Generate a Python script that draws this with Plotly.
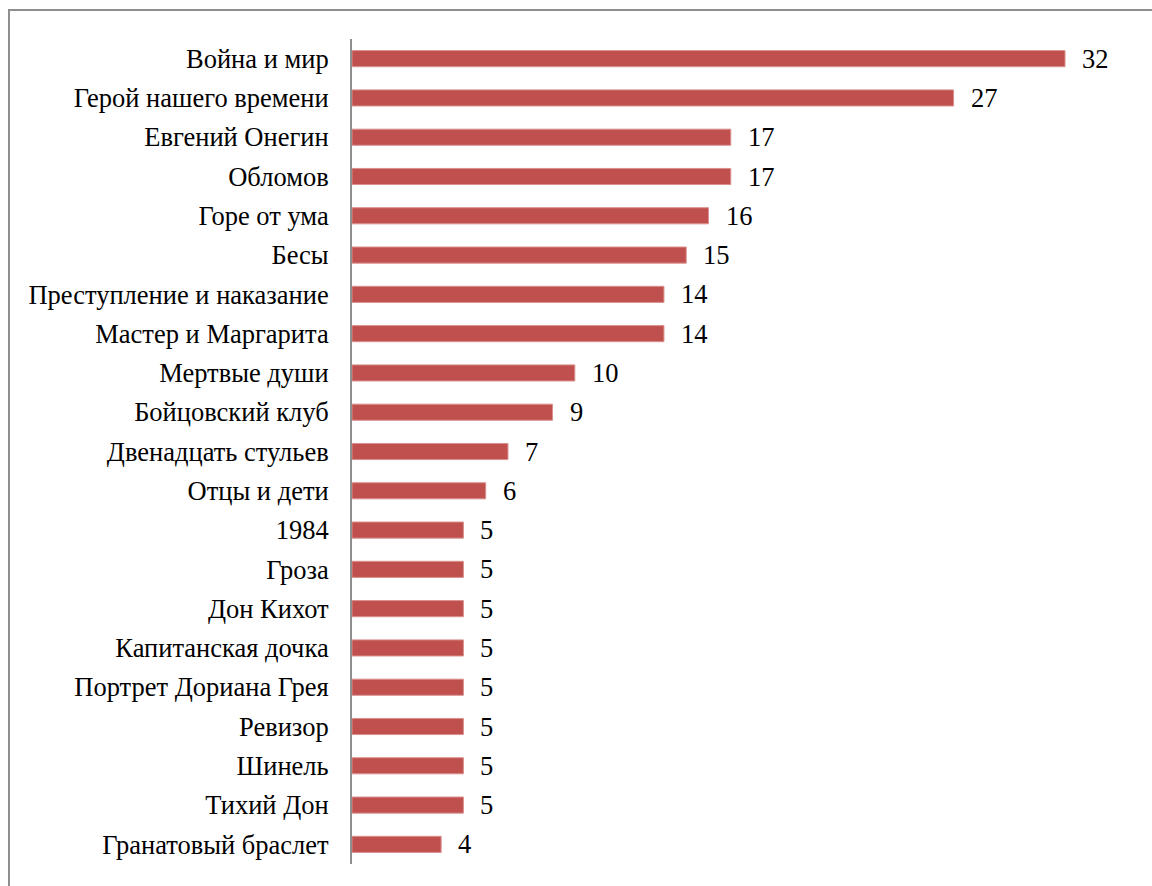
import plotly.graph_objects as go

# Books and the number of mentions for each
books = [
    "Война и мир", "Герой нашего времени", "Евгений Онегин", "Обломов",
    "Горе от ума", "Бесы", "Преступление и наказание", "Мастер и Маргарита",
    "Мертвые души", "Бойцовский клуб", "Двенадцать стульев", "Отцы и дети",
    "1984", "Гроза", "Дон Кихот", "Капитанская дочка",
    "Портрет Дориана Грея", "Ревизор", "Шинель", "Тихий Дон",
    "Гранатовый браслет",
]
counts = [32, 27, 17, 17, 16, 15, 14, 14, 10, 9, 7, 6, 5, 5, 5, 5, 5, 5, 5, 5, 4]

W, H = 1152, 886
L, R, T, B = 352, 20, 39, 22
FONT = "Liberation Serif"
FSIZE = 26.5

fig = go.Figure(
    go.Bar(
        x=counts,
        y=books,
        orientation="h",
        width=0.41,
        marker=dict(color="#C0504D", line=dict(color="#D9908E", width=1)),
        hoverinfo="x+y",
    )
)

# Value labels to the right of each bar (y given as category index)
for i, v in enumerate(counts):
    fig.add_annotation(
        x=v, y=i, xref="x", yref="y",
        text=str(v), showarrow=False,
        xanchor="left", yanchor="middle", xshift=15,
        font=dict(family=FONT, size=FSIZE, color="#000000"),
    )

# Outer frame of the chart area
pw = W - L - R
ph = H - T - B
fig.add_shape(
    type="rect", xref="paper", yref="paper",
    x0=(9 - L) / pw, x1=(W + 20 - L) / pw,
    y0=-(B + 20) / ph, y1=(H - B - 10) / ph,
    line=dict(color="#8E8E8E", width=2), fillcolor="rgba(0,0,0,0)",
    layer="below",
)

fig.update_layout(
    width=W, height=H,
    margin=dict(l=L, r=R, t=T, b=B),
    paper_bgcolor="white", plot_bgcolor="white",
    showlegend=False,
    font=dict(family=FONT, color="#000000"),
    xaxis=dict(
        range=[0, pw / (713 / 32)],
        showgrid=False, zeroline=False, showticklabels=False, showline=False,
        fixedrange=True,
    ),
    yaxis=dict(
        type="category",
        categoryorder="array", categoryarray=books,
        range=[len(books) - 0.5, -0.5],
        showgrid=False, zeroline=False,
        showline=True, linecolor="#8E8E8E", linewidth=2,
        ticks="", ticklabelstandoff=16,
        tickfont=dict(family=FONT, size=FSIZE, color="#000000"),
        fixedrange=True,
    ),
)

fig.write_html("out.html")
